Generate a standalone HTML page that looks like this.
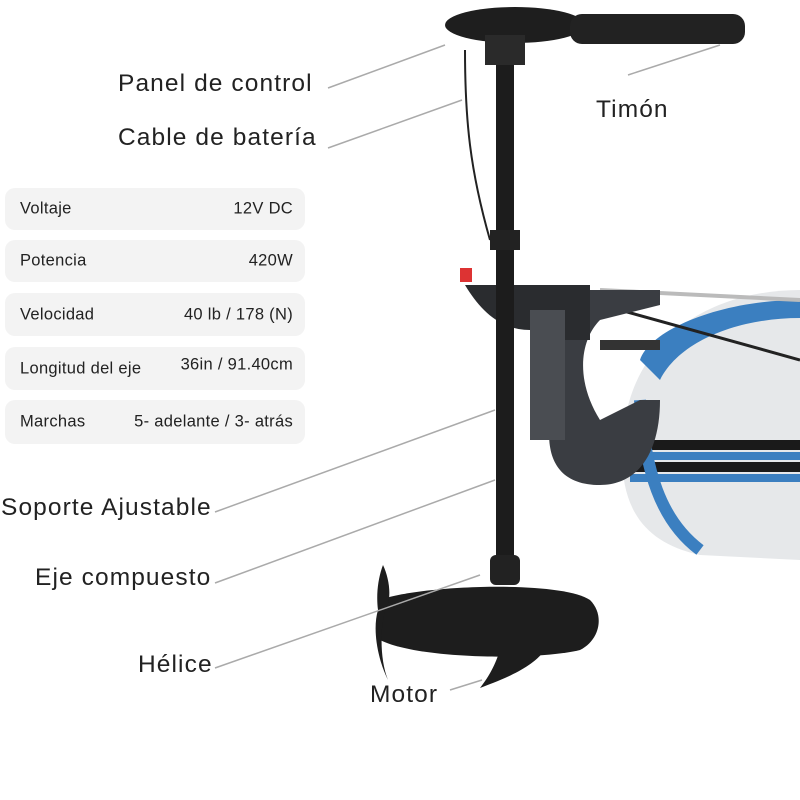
<!DOCTYPE html>
<html><head><meta charset="utf-8"><style>
body{margin:0;width:800px;height:800px;background:#fff;overflow:hidden;position:relative;font-family:"Liberation Sans",sans-serif}
.row{position:absolute;left:5px;width:300px;background:#f3f3f3;border-radius:10px;font-size:16.5px;color:#222;letter-spacing:0.3px}
.row span{position:absolute;top:50%;transform:translateY(-50%)}
.l{left:15px}.r{right:12px}
.lab{position:absolute;font-size:24.5px;color:#222;white-space:nowrap;letter-spacing:1.1px}
</style></head><body>
<svg width="800" height="800" style="position:absolute;left:0;top:0">
<path d="M800 290 C720 290 640 330 625 420 C615 490 630 540 700 555 L800 560 Z" fill="#e6e8ea"/>
<path d="M800 300 C720 300 650 330 640 360 L660 380 C680 340 740 318 800 318Z" fill="#3b7fc0"/>
<rect x="630" y="440" width="170" height="10" fill="#1a1a1a"/>
<rect x="630" y="452" width="170" height="8" fill="#3b7fc0"/>
<rect x="630" y="462" width="170" height="10" fill="#1a1a1a"/>
<rect x="630" y="474" width="170" height="8" fill="#3b7fc0"/>
<path d="M640 400 C645 470 660 520 700 550" stroke="#3b7fc0" stroke-width="12" fill="none"/>
<line x1="600" y1="290" x2="800" y2="300" stroke="#bbb" stroke-width="4"/>
<line x1="620" y1="310" x2="800" y2="360" stroke="#222" stroke-width="3"/>
<path d="M560 290 L660 290 L660 305 L600 320 C580 340 575 380 600 420 L640 400 L660 400 C660 450 640 485 600 485 C560 485 545 460 550 420 L545 300Z" fill="#3a3d42"/>
<path d="M465 285 L590 285 L590 340 L560 340 L560 420 L530 440 L530 330 C500 330 480 310 465 285Z" fill="#2a2c2f"/>
<rect x="530" y="310" width="35" height="130" fill="#4a4d52"/>
<rect x="600" y="340" width="60" height="10" fill="#333"/>
<rect x="460" y="268" width="12" height="14" fill="#d33"/>
<rect x="496" y="60" width="18" height="520" fill="#1c1c1c"/>
<rect x="490" y="230" width="30" height="20" fill="#222"/>
<rect x="490" y="555" width="30" height="30" rx="6" fill="#222"/>
<path d="M465 50 C465 120 470 170 490 240" stroke="#222" stroke-width="2" fill="none"/>
<ellipse cx="515" cy="25" rx="70" ry="18" fill="#1e1e1e"/>
<rect x="570" y="14" width="175" height="30" rx="12" fill="#222"/>
<rect x="485" y="35" width="40" height="30" fill="#2a2a2a"/>
<path d="M380 600 C420 585 560 580 590 600 C605 615 600 640 580 650 C540 660 420 660 380 640Z" fill="#1d1d1d"/>
<path d="M500 650 L545 650 C530 670 500 680 480 688 C490 675 495 665 500 650Z" fill="#1d1d1d"/>
<path d="M383 565 C390 580 392 600 385 610 C380 630 380 660 388 680 C378 660 372 630 378 610 C376 595 378 578 383 565Z" fill="#1d1d1d"/>
<g stroke="#aaa" stroke-width="1.5">
<line x1="328" y1="88" x2="445" y2="45"/>
<line x1="328" y1="148" x2="462" y2="100"/>
<line x1="628" y1="75" x2="720" y2="45"/>
<line x1="215" y1="512" x2="495" y2="410"/>
<line x1="215" y1="583" x2="495" y2="480"/>
<line x1="215" y1="668" x2="480" y2="575"/>
<line x1="450" y1="690" x2="482" y2="680"/>
</g>
</svg>
<div class="row" style="top:188px;height:42px"><span class="l">Voltaje</span><span class="r">12V DC</span></div>
<div class="row" style="top:240px;height:42px"><span class="l">Potencia</span><span class="r">420W</span></div>
<div class="row" style="top:293px;height:43px"><span class="l">Velocidad</span><span class="r">40 lb / 178 (N)</span></div>
<div class="row" style="top:347px;height:43px"><span class="l">Longitud del eje</span><span class="r" style="top:42%">36in / 91.40cm</span></div>
<div class="row" style="top:400px;height:44px"><span class="l">Marchas</span><span class="r">5- adelante / 3- atrás</span></div>
<div class="lab" style="left:118px;top:70px">Panel de control</div>
<div class="lab" style="left:118px;top:124px">Cable de batería</div>
<div class="lab" style="left:596px;top:96px">Timón</div>
<div class="lab" style="left:1px;top:494px">Soporte Ajustable</div>
<div class="lab" style="left:35px;top:564px">Eje compuesto</div>
<div class="lab" style="left:138px;top:651px">Hélice</div>
<div class="lab" style="left:370px;top:681px">Motor</div>
</body></html>
